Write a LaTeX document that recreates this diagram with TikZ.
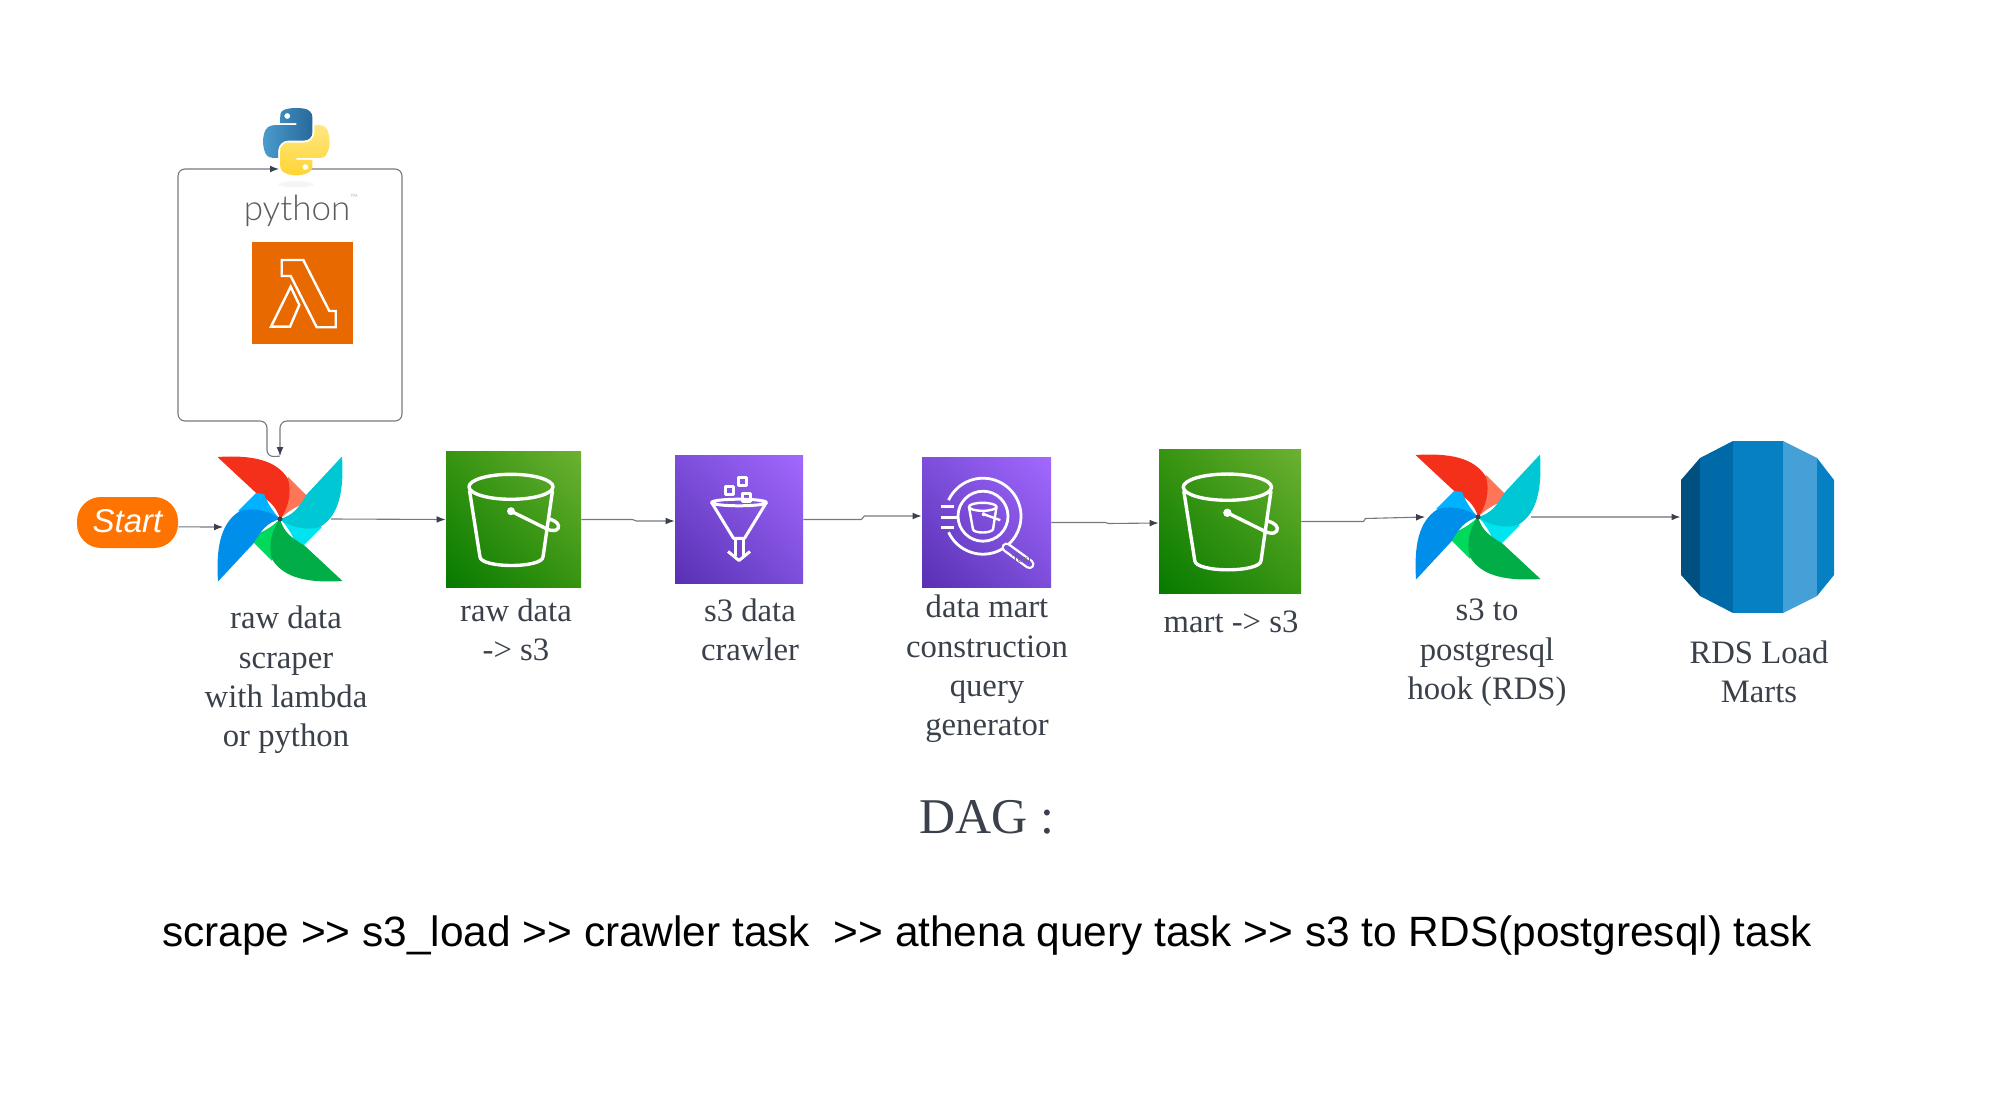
\documentclass[tikz,border=0pt]{standalone}
\usepackage{fontspec}
\usetikzlibrary{arrows.meta,shadings}
\setmainfont{Liberation Serif}
\newfontfamily\arialfont{Liberation Sans}
\newfontfamily\logofont{Lato Light}

\definecolor{linegray}{HTML}{75797F}
\definecolor{tipdark}{HTML}{3A404C}
\definecolor{labelink}{HTML}{3A414A}
\definecolor{rdsa}{HTML}{00507F}
\definecolor{rdsb}{HTML}{0069A8}
\definecolor{rdsc}{HTML}{0780C3}
\definecolor{rdsd}{HTML}{45A0D8}
\definecolor{greenll}{HTML}{057A00}
\definecolor{greenmid}{HTML}{379410}
\definecolor{greenur}{HTML}{6CB132}
\definecolor{purplell}{HTML}{5830B2}
\definecolor{purplemid}{HTML}{7C4EDA}
\definecolor{purpleur}{HTML}{A268FF}
\definecolor{startorange}{HTML}{FF7300}
\definecolor{lambdaorange}{HTML}{E86900}
\definecolor{pyblueleft}{HTML}{4B9BCD}
\definecolor{pyblueright}{HTML}{28699B}
\definecolor{pyyellowtop}{HTML}{FFE882}
\definecolor{pyyellowbot}{HTML}{FFD432}
\definecolor{pyword}{HTML}{5C5C5E}

\tikzset{
	flow/.style={draw=linegray, line width=.55pt, -{Latex[length=4.5pt,width=3.4pt,color=tipdark]}},
	iconline/.style={draw=white, line width=1.7pt, fill=none, line join=round},
	greenbox/.style={shade, lower left=greenll, upper right=greenur, upper left=greenmid, lower right=greenmid, inner sep=0pt},
	purplebox/.style={shade, lower left=purplell, upper right=purpleur, upper left=purplemid, lower right=purplemid, inner sep=0pt},
	tasklabel/.style={align=center, text=labelink, font=\fontsize{16.35}{19.7}\selectfont, inner sep=0pt},
	blank/.style={inner sep=0pt, minimum width=#1}
}

% pinwheel, one blade turned four times
\newcommand{\pinwheel}[1]{
	\foreach \ang/\dk/\lt in {0/F4301A/FF7557, -90/00C7D4/00E4F0, 180/00AD46/00D95C, 90/008EEB/00B2FF}{
		\definecolor{bladedk}{HTML}{\dk}
		\definecolor{bladelt}{HTML}{\lt}
		\begin{scope}[shift={(#1)},rotate=\ang]
			\fill[bladelt] (8,-42) -- (26,-24) -- (25,-16) .. controls (15,-12) and (7,-7) .. (0,0) -- cycle;
			\fill[bladedk] (-62.5,-62) .. controls (-30,-64) and (-4,-60) .. (8,-40) .. controls (12,-26) and (8,-10) .. (0,0) .. controls (-4,-14) and (-12,-19) .. (-24.6,-26.7) -- cycle;
		\end{scope}
	}
	\fill[tipdark] (#1) circle (2.5);
}

% bucket in a square
\newcommand{\bucketicon}[2]{
	\begin{scope}[shift={(#1)},scale=#2]
		\draw[iconline] (-2.5,-32.7) ellipse (42 and 12.5);
		\draw[iconline] (-44,-29) -- (-33.6,37) .. controls (-33.6,49) and (29.6,49) .. (29.6,37) -- (39,-29);
		\draw[iconline] (-2.5,-8.3) -- (32.5,9) .. controls (40,13) and (46,11) .. (45,6) .. controls (44,2) and (38,0) .. (34,-1);
		\fill[white] (-2.5,-8.3) circle (4);
	\end{scope}
}

\begin{document}
\begin{tikzpicture}[x=.5pt,y=-.5pt]
	\useasboundingbox (0,0) rectangle (2000,1106);

	\coordinate (pyin) at (279,169);
	\coordinate (pyout) at (310,169);

	\node[blank=62.5pt, minimum height=62.5pt] (airflowa) at (280,519) {};
	\node[blank=62.5pt, minimum height=62.5pt] (airflowb) at (1478,517) {};
	\node[greenbox, minimum width=67.5pt, minimum height=67.5pt] (s3a) at (513.5,519.5) {};
	\node[purplebox, minimum width=64pt, minimum height=63.5pt] (crawler) at (739,519.5) {};
	\node[purplebox, minimum width=64.5pt, minimum height=64.5pt] (athena) at (986.5,522.5) {};
	\node[greenbox, minimum width=71pt, minimum height=71.5pt] (s3b) at (1230,521.5) {};
	\node[blank=76.5pt, minimum height=86pt] (rds) at (1757.5,527) {};
	\node[fill=startorange, rounded corners=12pt, minimum width=50.5pt, minimum height=25.5pt, inner sep=0pt, text=white, font=\arialfont\itshape\fontsize{16.5}{18}\selectfont] (start) at (127.5,522.5) {\raisebox{1.9pt}{Start}};
	\node[fill=lambdaorange, minimum width=50.5pt, minimum height=51pt, inner sep=0pt] (lambda) at (302.5,293) {};
	\node[blank=33.5pt, minimum height=35pt] (pyicon) at (296,142) {};

	% box round the two runtimes
	\draw[flow, rounded corners=3.5pt] (airflowa.north) -- (267,457) -- (267,421) -- (178,421) -- (178,169) -- (pyin);
	\draw[flow, rounded corners=3.5pt] (pyout) -- (402,169) -- (402,421) -- (280,421) -- (airflowa.north);

	% python logo
	\begin{scope}[shift={(263,108)},scale=.6]
		\fill[black!4] (55,127) ellipse (30 and 5);
		\shade[left color=pyblueleft, right color=pyblueright, even odd rule]
			(54.92,0) .. controls (50.34,.02) and (45.96,.41) .. (42.11,1.09) .. controls (30.76,3.10) and (28.70,7.29) .. (28.70,15.03) -- (28.70,25.25) -- (55.51,25.25) -- (55.51,28.66) -- (18.64,28.66) .. controls (10.85,28.66) and (4.02,33.34) .. (1.89,42.25) .. controls (-.57,52.46) and (-.68,58.84) .. (1.89,69.50) .. controls (3.80,77.44) and (8.35,83.09) .. (16.14,83.09) -- (25.36,83.09) -- (25.36,70.84) .. controls (25.36,61.99) and (33.02,54.18) .. (42.11,54.18) -- (68.89,54.18) .. controls (76.34,54.18) and (82.30,48.04) .. (82.30,40.55) -- (82.30,15.02) .. controls (82.30,7.75) and (76.17,2.30) .. (68.89,1.08) .. controls (64.28,.33) and (59.50,-.02) .. (54.92,0) -- cycle
			(40.42,13.34) circle (5.03);
		\shade[top color=pyyellowtop, bottom color=pyyellowbot, even odd rule]
			(85.64,28.66) -- (85.64,40.56) .. controls (85.64,49.79) and (77.81,57.56) .. (68.89,57.56) -- (42.11,57.56) .. controls (34.77,57.56) and (28.70,63.84) .. (28.70,71.19) -- (28.70,96.72) .. controls (28.70,103.99) and (35.02,108.26) .. (42.11,110.35) .. controls (50.60,112.85) and (58.74,113.30) .. (68.89,110.35) .. controls (75.64,108.40) and (82.30,104.46) .. (82.30,96.72) -- (82.30,86.50) -- (55.52,86.50) -- (55.52,83.09) -- (95.71,83.09) .. controls (103.50,83.09) and (106.41,77.65) .. (109.12,69.50) .. controls (111.92,61.10) and (111.86,53.02) .. (109.12,42.25) .. controls (107.19,34.49) and (103.52,28.66) .. (95.71,28.66) -- cycle
			(70.57,98.41) circle (5.03);
	\end{scope}
	\node[anchor=base, text=pyword, inner sep=0pt, font=\logofont\fontsize{17.5}{18}\selectfont] (pyword) at (297,221) {python};
	\node[text=black!40, inner sep=0pt, font=\logofont\fontsize{5}{5}\selectfont] (pytm) at (354,198) {™};

	% lambda
	\begin{scope}[shift={(lambda.center)}]
		\draw[draw=white, line width=1.2pt, line join=miter] (-20.8,-33) -- (.8,-33) -- (26.8,18) -- (33.2,18) -- (33.2,34.3) -- (14.2,34.3) -- (-11.8,-17) -- (-20.8,-17) -- cycle;
		\draw[draw=white, line width=1.2pt, line join=miter] (-11.8,-6.3) -- (-3.2,12) -- (-12.5,33.7) -- (-31.5,33.7) -- cycle;
	\end{scope}

	\pinwheel{airflowa.center}
	\pinwheel{airflowb.center}
	\bucketicon{s3a.center}{1}
	\bucketicon{s3b.center}{1.05}

	% crawler funnel
	\begin{scope}[shift={(crawler.center)}]
		\draw[iconline, line width=1.5pt] (0,-17) ellipse (27.4 and 3.3);
		\draw[iconline, line width=1.5pt] (-27.4,-17) -- (-5.5,18.8) -- (5.5,18.8) -- (27.4,-17);
		\draw[iconline, line width=1.5pt] (-4,19) -- (-4,36);
		\draw[iconline, line width=1.5pt] (4,19) -- (4,36);
		\draw[iconline, line width=1.5pt] (-11,32) -- (0,41) -- (11,32);
		\draw[iconline, line width=1.5pt] (-14,-33.5) rectangle (-6,-25.5);
		\draw[iconline, line width=1.5pt] (-.5,-42) rectangle (7.5,-34);
		\draw[iconline, line width=1.5pt] (3,-26) rectangle (11,-18);
	\end{scope}

	% athena glass
	\begin{scope}[shift={(athena.center)}]
		\draw[iconline, line width=1.4pt] (-3.5,-6.3) circle (25);
		\draw[iconline, line width=1.4pt] (-3.5,-6.3) ++(-155:38) arc[start angle=-155,end angle=155,radius=38];
		\draw[iconline, line width=1.4pt] (-46,-15.7) -- (-33,-15.7);
		\draw[iconline, line width=1.4pt] (-46,-5) -- (-29,-5);
		\draw[iconline, line width=1.4pt] (-46,5) -- (-33,5);
		\draw[white, line width=5pt, line cap=round] (20,25) -- (43,41.7);
		\draw[purplemid, line width=2.6pt, line cap=round] (20,25) -- (43,41.7);
		\draw[iconline, line width=1.2pt] (-3.8,-15.7) ellipse (13.8 and 4);
		\draw[iconline, line width=1.2pt] (-17.6,-15.7) -- (-13.5,7) .. controls (-12,11) and (4,11) .. (6.5,7) -- (10,-15.7);
		\draw[iconline, line width=1.2pt] (-2.8,-8.3) -- (13.8,-2.3);
		\fill[white] (-2.8,-8.3) circle (2);
		\node[text=black!60, inner sep=0pt, font=\fontsize{5.5}{6}\selectfont] (athenatext) at (35.2,36.8) {Text};
	\end{scope}

	% rds cylinder
	\fill[rdsa] (1700,458) -- (1681,480) -- (1681,575) -- (1700,596) -- cycle;
	\fill[rdsb] (1700,458) -- (1733,441) -- (1733,613) -- (1700,596) -- cycle;
	\fill[rdsc] (1733,441) rectangle (1783,613);
	\fill[rdsd] (1783,441) -- (1817,458) -- (1817,596) -- (1783,613) -- cycle;
	\fill[rdsc] (1817,458) -- (1834,480) -- (1834,575) -- (1817,596) -- cycle;

	% task arrows
	\draw[flow] ([yshift=-2.2pt]start.east) -- ([xshift=3pt,yshift=-4pt]airflowa.west);
	\draw[flow] ([xshift=-6pt]airflowa.east) -- (s3a.west);
	\draw[flow] (s3a.east) -- ++(51,0) -- ++(4,1.5) -- ([yshift=-.75pt]crawler.west);
	\draw[flow] (crawler.east) -- ++(58,0) -- ++(3,-3.5) -- ([yshift=3.25pt]athena.west);
	\draw[flow] (athena.east) -- ++(54,0) -- ++(3,1) -- ([yshift=-.75pt]s3b.west);
	\draw[flow] (s3b.east) -- ++(62,0) -- ++(2,-3) -- ([xshift=5pt,yshift=0pt]airflowb.west);
	\draw[flow, line width=.8pt, draw=linegray!70] ([xshift=-5pt]airflowb.east) -- ([yshift=5pt]rds.west);

	% labels
	\node[tasklabel] (labela) at (286,680) {raw data\\scraper\\with lambda\\or python};
	\node[tasklabel] (labelb) at (516,630) {raw data\\-> s3};
	\node[tasklabel] (labelc) at (750,630) {s3 data\\crawler};
	\node[tasklabel] (labeld) at (987,669) {data mart\\construction\\query\\generator};
	\node[tasklabel] (labele) at (1231,622) {mart -> s3};
	\node[tasklabel] (labelf) at (1487,653) {s3 to\\postgresql\\hook (RDS)};
	\node[tasklabel] (labelg) at (1759,672) {RDS Load\\Marts};
	\node[text=labelink, inner sep=0pt, font=\fontsize{25}{30}\selectfont] (dagtitle) at (987,817) {DAG :};
	\node[inner sep=0pt, font=\arialfont\fontsize{21.2}{26}\selectfont] (dagline) at (987,936) {scrape >> s3\_load >> crawler task \ >> athena query task >> s3 to RDS(postgresql) task};
\end{tikzpicture}
\end{document}
